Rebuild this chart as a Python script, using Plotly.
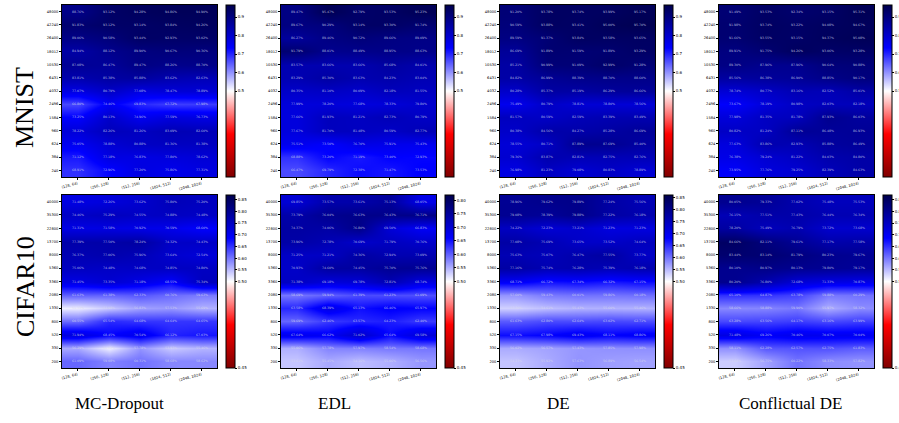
import plotly.graph_objects as go

methods = ["MC-Dropout", "EDL", "DE", "Conflictual DE"]
datasets = ["MNIST", "CIFAR10"]
archs = ["(128, 64)", "(256, 128)", "(512, 256)", "(1024, 512)", "(2048, 1024)"]
mnist_sizes = ["48000", "42240", "26400", "18012", "10530", "6431", "4032",
               "2496", "1584", "960", "624", "384", "240"]
cifar_sizes = ["40000", "35300", "22800", "13700", "8000", "5360", "3360",
               "2080", "1330", "800", "520", "330", "200"]

# accuracy (%) rows listed from top (largest train size) to bottom
mnist_mc = [
    [88.76, 93.12, 94.28, 94.86, 94.90],
    [91.83, 93.12, 93.14, 93.84, 94.26],
    [89.06, 90.58, 93.44, 92.93, 93.02],
    [84.94, 88.12, 89.90, 90.67, 90.36],
    [87.08, 86.47, 89.47, 88.26, 88.70],
    [83.81, 85.38, 85.88, 83.62, 82.63],
    [77.07, 80.79, 77.08, 78.47, 78.89],
    [66.80, 74.46, 69.83, 67.72, 67.98],
    [73.25, 80.13, 74.96, 77.59, 76.73],
    [78.22, 82.26, 81.26, 83.09, 82.60],
    [75.05, 78.88, 80.88, 81.36, 81.38],
    [71.12, 77.18, 76.83, 77.80, 78.62],
    [68.91, 72.96, 77.20, 75.86, 77.31],
]
mnist_edl = [
    [89.47, 95.47, 92.79, 93.53, 95.23],
    [89.67, 90.29, 93.14, 93.30, 91.74],
    [86.27, 89.46, 90.72, 89.66, 89.09],
    [91.79, 88.01, 88.49, 88.95, 88.63],
    [83.57, 83.66, 83.66, 85.68, 84.01],
    [83.29, 85.30, 83.63, 84.23, 83.04],
    [80.35, 81.10, 80.09, 82.18, 81.55],
    [77.99, 78.20, 77.68, 78.33, 79.80],
    [77.66, 81.93, 81.21, 82.73, 80.79],
    [77.67, 81.70, 81.48, 80.59, 82.77],
    [75.51, 73.50, 76.70, 75.91, 75.43],
    [68.88, 73.20, 71.19, 73.40, 72.93],
    [66.47, 69.79, 72.38, 71.47, 73.53],
]
mnist_de = [
    [91.20, 93.78, 93.74, 93.99, 95.17],
    [90.59, 93.88, 93.41, 95.00, 95.70],
    [89.59, 91.37, 93.84, 93.58, 93.65],
    [86.69, 91.89, 91.59, 91.89, 93.29],
    [85.21, 90.99, 91.09, 92.99, 91.28],
    [84.82, 86.99, 88.39, 88.70, 88.60],
    [80.28, 85.37, 85.19, 86.29, 86.66],
    [75.49, 80.79, 78.81, 78.80, 78.56],
    [81.57, 80.59, 82.59, 83.39, 83.49],
    [80.38, 84.56, 84.27, 85.28, 86.69],
    [78.55, 80.71, 87.89, 87.69, 85.40],
    [79.36, 83.87, 82.81, 82.75, 82.76],
    [76.98, 81.23, 79.08, 80.83, 78.89],
]
mnist_cde = [
    [91.49, 93.53, 92.34, 93.15, 95.31],
    [91.98, 93.74, 93.22, 94.08, 94.67],
    [91.66, 93.55, 93.15, 94.37, 95.08],
    [89.91, 91.75, 94.26, 93.06, 93.28],
    [89.30, 87.96, 87.96, 90.64, 90.88],
    [85.56, 86.38, 86.90, 88.85, 90.17],
    [78.74, 80.77, 83.16, 82.52, 85.01],
    [73.67, 78.19, 80.98, 82.03, 82.18],
    [77.98, 81.35, 81.78, 87.93, 86.03],
    [80.82, 81.24, 87.11, 86.48, 86.93],
    [77.63, 83.86, 82.93, 85.88, 86.49],
    [76.38, 79.24, 81.22, 84.03, 84.80],
    [73.95, 77.76, 79.25, 82.39, 84.63],
]
cifar_mc = [
    [71.48, 72.26, 73.62, 75.80, 75.20],
    [74.46, 75.29, 74.55, 74.88, 74.48],
    [71.31, 71.58, 70.92, 70.59, 68.60],
    [77.39, 77.50, 78.24, 74.32, 74.43],
    [76.37, 77.06, 75.96, 73.64, 72.54],
    [75.06, 74.48, 74.68, 74.85, 74.80],
    [71.45, 73.35, 71.18, 68.55, 75.34],
    [61.63, 61.38, 62.33, 60.76, 59.63],
    [51.33, 53.98, 56.83, 57.53, 55.69],
    [60.55, 65.54, 64.68, 64.64, 64.65],
    [71.94, 68.45, 70.54, 66.12, 67.03],
    [56.29, 51.02, 57.78, 53.93, 55.46],
    [61.09, 59.08, 60.31, 58.68, 58.62],
]
cifar_edl = [
    [69.85, 73.57, 73.61, 75.13, 68.05],
    [73.79, 76.04, 76.63, 76.43, 76.71],
    [74.37, 74.06, 76.80, 69.50, 66.83],
    [73.96, 72.78, 70.69, 71.79, 70.76],
    [71.25, 71.21, 74.36, 72.94, 73.09],
    [70.93, 74.60, 74.45, 75.70, 75.76],
    [71.38, 69.18, 69.78, 72.81, 68.74],
    [58.69, 59.94, 61.39, 61.23, 61.09],
    [63.58, 68.39, 65.13, 66.46, 65.97],
    [59.69, 62.46, 63.57, 64.23, 62.40],
    [67.64, 66.62, 71.02, 65.64, 69.58],
    [55.06, 57.78, 57.97, 58.54, 58.68],
    [53.61, 55.45, 54.16, 55.06, 56.56],
]
cifar_de = [
    [78.96, 79.62, 79.89, 77.24, 75.56],
    [79.08, 78.39, 79.88, 77.22, 76.18],
    [74.22, 72.23, 73.21, 71.23, 71.23],
    [77.08, 75.69, 73.65, 73.52, 74.64],
    [75.63, 75.07, 76.47, 77.55, 73.77],
    [77.16, 75.74, 76.28, 75.39, 76.18],
    [68.71, 66.72, 67.34, 66.32, 67.15],
    [57.60, 59.43, 60.01, 59.86, 60.18],
    [53.30, 54.61, 55.43, 55.60, 55.46],
    [61.63, 62.80, 62.64, 63.02, 62.71],
    [67.15, 67.98, 69.43, 68.11, 68.86],
    [56.02, 56.57, 57.43, 57.85, 57.98],
    [54.23, 55.92, 57.63, 56.89, 56.54],
]
cifar_cde = [
    [80.05, 79.33, 77.02, 75.48, 75.53],
    [76.15, 77.51, 77.43, 76.44, 76.34],
    [78.20, 75.49, 76.79, 73.72, 73.68],
    [84.66, 82.11, 79.61, 77.17, 77.58],
    [83.44, 83.14, 81.79, 80.23, 79.67],
    [80.10, 80.97, 80.13, 79.80, 79.17],
    [80.20, 76.80, 72.68, 71.33, 70.87],
    [65.10, 64.87, 63.78, 59.88, 60.29],
    [58.66, 58.88, 59.90, 55.97, 58.32],
    [63.28, 63.56, 64.17, 63.16, 63.99],
    [71.48, 69.26, 70.46, 70.07, 70.04],
    [58.11, 62.28, 62.57, 62.75, 61.83],
    [53.68, 56.75, 60.22, 58.33, 57.82],
]

# colour-norm limits (two-slope norm centred on 0.5) and colorbar ticks
mnist_limits = (0.45, 0.965)
mnist_ticks = [0.5, 0.6, 0.7, 0.8, 0.9]
mnist_ticktext = ["0.5", "0.6", "0.7", "0.8", "0.9"]
cifar_limits = [(0.45, 0.87), (0.45, 0.82), (0.45, 0.86), (0.45, 0.87)]
cifar_ticks = [0.45, 0.5, 0.55, 0.6, 0.65, 0.7, 0.75, 0.8, 0.85]
cifar_ticktext = ["0.45", "0.50", "0.55", "0.60", "0.65", "0.70", "0.75", "0.80", "0.85"]

grid = [[mnist_mc, mnist_edl, mnist_de, mnist_cde],
        [cifar_mc, cifar_edl, cifar_de, cifar_cde]]
sizes = [mnist_sizes, cifar_sizes]

W, H = 899, 423
colorscale = [[0.0, "rgb(128,0,0)"], [0.25, "rgb(255,0,0)"], [0.5, "rgb(255,255,255)"],
              [0.75, "rgb(0,0,255)"], [1.0, "rgb(0,0,77)"]]


def norm(v, vmin, vmax, vc=0.5):
    if v < vc:
        r = 0.5 * (v - vmin) / (vc - vmin)
    else:
        r = 0.5 + 0.5 * (v - vc) / (vmax - vc)
    return max(0.0, min(1.0, r))


fig = go.Figure()
layout = {}
row_px = [(5, 177), (195, 368)]
col_left = [62, 281, 500, 719]
ax_w = 155
k = 0
for r in range(2):
    top, bot = row_px[r]
    for c in range(4):
        k += 1
        data = grid[r][c]
        vmin, vmax = mnist_limits if r == 0 else cifar_limits[c]
        ticks = mnist_ticks if r == 0 else cifar_ticks
        ttext = mnist_ticktext if r == 0 else cifar_ticktext
        tv, tt = [], []
        for t, s in zip(ticks, ttext):
            if vmin - 1e-9 <= t <= vmax + 1e-9:
                tv.append(norm(t, vmin, vmax))
                tt.append(s)
        z = [[norm(v / 100.0, vmin, vmax) for v in row] for row in data]
        txt = [[f"{v:.2f}%" for v in row] for row in data]
        xa = "x" if k == 1 else f"x{k}"
        ya = "y" if k == 1 else f"y{k}"
        fig.add_trace(go.Heatmap(
            z=z, x=archs, y=sizes[r], text=txt, texttemplate="%{text}",
            textfont=dict(size=3.2, color="rgba(215,215,235,0.85)", family="DejaVu Sans"),
            colorscale=colorscale, zmin=0, zmax=1, zsmooth="best",
            xaxis=xa, yaxis=ya,
            colorbar=dict(
                x=(col_left[c] + ax_w + 9) / W, xanchor="left", xpad=0, ypad=0,
                y=1 - top / H, yanchor="top", len=(bot - top) / H, lenmode="fraction",
                thickness=9, thicknessmode="pixels", outlinewidth=1, outlinecolor="black",
                tickvals=tv, ticktext=tt, ticks="outside", ticklen=2, tickwidth=0.6,
                tickcolor="black", tickfont=dict(size=4, family="DejaVu Sans", color="black"),
            ),
        ))
        axis_common = dict(showline=True, mirror=True, linecolor="black", linewidth=1,
                           ticks="outside", ticklen=2, tickwidth=0.6, tickcolor="black",
                           showgrid=False, zeroline=False, type="category")
        layout["xaxis" if k == 1 else f"xaxis{k}"] = dict(
            domain=[col_left[c] / W, (col_left[c] + ax_w) / W], anchor=ya,
            tickangle=-15, tickfont=dict(size=3.6, family="DejaVu Sans", color="black"),
            **axis_common)
        layout["yaxis" if k == 1 else f"yaxis{k}"] = dict(
            domain=[1 - bot / H, 1 - top / H], anchor=xa, autorange="reversed",
            tickfont=dict(size=3.6, family="DejaVu Sans", color="black"),
            **axis_common)

annotations = []
row_label_y = [108, 287]
for r, name in enumerate(datasets):
    annotations.append(dict(text=name, x=25 / W, y=1 - row_label_y[r] / H, xref="paper",
                            yref="paper", showarrow=False, textangle=-90,
                            xanchor="center", yanchor="middle",
                            font=dict(size=26, family="Liberation Serif", color="black")))
title_x = [119, 334, 558, 790]
for c, name in enumerate(methods):
    annotations.append(dict(text=name, x=title_x[c] / W, y=1 - 403 / H,
                            xref="paper", yref="paper", showarrow=False,
                            xanchor="center", yanchor="middle",
                            font=dict(size=17, family="Liberation Serif", color="black")))

fig.update_layout(width=W, height=H, margin=dict(l=0, r=0, t=0, b=0, autoexpand=False),
                  paper_bgcolor="white", plot_bgcolor="white",
                  annotations=annotations, **layout)
fig.write_html("out.html", config={"displayModeBar": False},
               post_script="document.body.style.margin='0';"
                           "document.body.style.overflow='hidden';")
